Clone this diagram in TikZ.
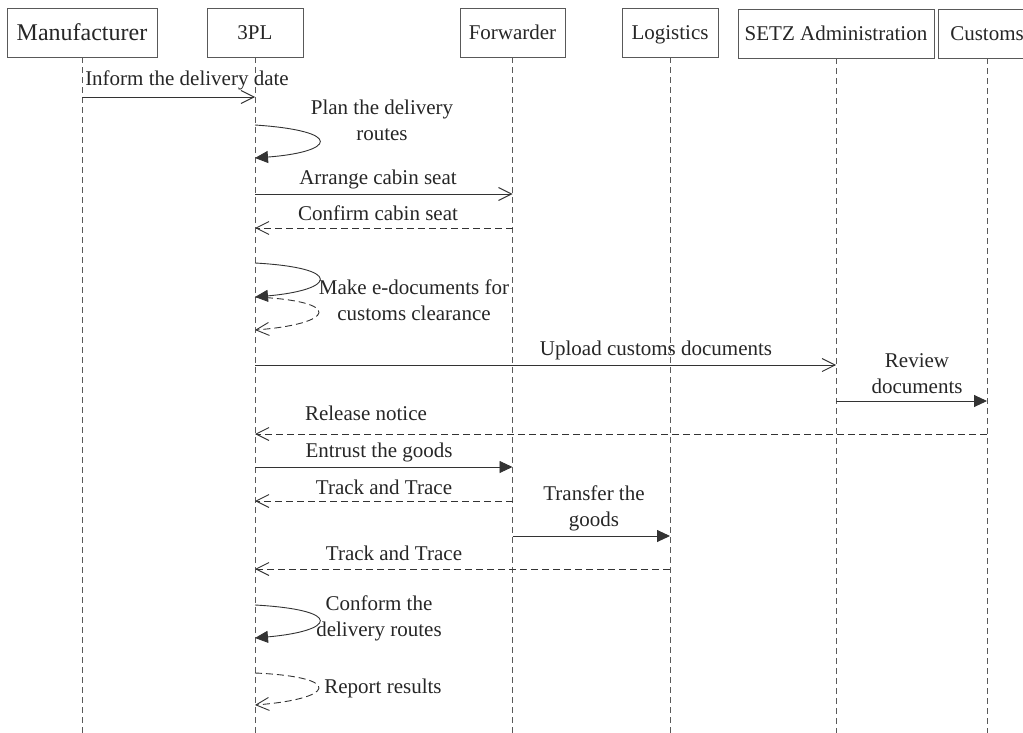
\documentclass[tikz,border=0pt]{standalone}
\usepackage{fontspec}
\setmainfont{Liberation Serif}
\usetikzlibrary{arrows.meta}
\begin{document}
\begin{tikzpicture}[x=1pt,y=-1pt,
  every node/.style={font=\fontsize{21}{26}\selectfont, text=black!85, inner sep=0pt},
  actor/.style={draw=black!65, line width=0.9pt, minimum height=49pt, text height=19pt, text depth=5pt},
  life/.style={draw=black!65, line width=0.8pt, dash pattern=on 6pt off 4pt},
  msg/.style={draw=black!80, line width=0.9pt},
  ret/.style={draw=black!80, line width=0.9pt, dash pattern=on 7pt off 4pt},
  open/.style={-{Straight Barb[length=13pt,width=13pt]}},
  full/.style={-{Triangle[length=13pt,width=12pt]}},
  lbl/.style={align=center}]
\useasboundingbox (0,0) rectangle (1023,733);
\begin{scope}
\clip (0,0) rectangle (1023,733);
% actors
\node[actor, minimum width=150pt, font=\fontsize{24}{28}\selectfont, text height=22pt, text depth=5pt] (m) at (82,32.5) {Manufacturer};
\node[actor, minimum width=96pt] (p) at (255,32.5) {3PL};
\node[actor, minimum width=105pt] (f) at (512.5,32.5) {Forwarder};
\node[actor, minimum width=96pt] (l) at (670,32.5) {Logistics};
\node[actor, minimum width=196pt] (s) at (836,33.5) {SETZ Administration};
\node[actor, minimum width=98pt] (c) at (987,33.5) {Customs};
% lifelines
\foreach \n in {m,p,f,l,s,c}{\draw[life] (\n.south) -- (\n |- 0,733);}
% messages
\draw[msg, open] (m |- 0,97) -- (p |- 0,97);
\node[lbl] (t1) at (187,80) {Inform the delivery date};

\draw[msg, full] (p |- 0,125) .. controls (345,131) and (335,152) .. (p |- 0,158);
\node[lbl] (t2) at (382,120) {Plan the delivery\\routes};

\draw[msg, open] (p |- 0,194) -- (f |- 0,194);
\node[lbl] (t3) at (378,179) {Arrange cabin seat};

\draw[ret, open] (f |- 0,228) -- (p |- 0,228);
\node[lbl] (t4) at (378,213) {Confirm cabin seat};

\draw[msg, full] (p |- 0,263) .. controls (345,268) and (335,290) .. (p |- 0,297);
\draw[ret, open] (p |- 0,297) .. controls (345,301) and (335,324) .. (p |- 0,330);
\node[lbl] (t5) at (414,300.5) {Make e-documents for\\customs clearance};

\draw[msg, open] (p |- 0,365) -- (s |- 0,365);
\node[lbl] (t6) at (656,350) {Upload customs documents};

\draw[msg, full] (s |- 0,401) -- (c |- 0,401);
\node[lbl] (t7) at (917,374) {Review\\documents};

\draw[ret, open] (c |- 0,434) -- (p |- 0,434);
\node[lbl] (t8) at (366,413) {Release notice};

\draw[msg, full] (p |- 0,467) -- (f |- 0,467);
\node[lbl] (t9) at (379,452) {Entrust the goods};

\draw[ret, open] (f |- 0,501) -- (p |- 0,501);
\node[lbl] (t10) at (384,487) {Track and Trace};

\draw[msg, full] (f |- 0,536) -- (l |- 0,536);
\node[lbl] (t11) at (594,508) {Transfer the\\goods};

\draw[ret, open] (l |- 0,569) -- (p |- 0,569);
\node[lbl] (t12) at (394,553) {Track and Trace};

\draw[msg, full] (p |- 0,605) .. controls (345,610) and (335,631) .. (p |- 0,638);
\node[lbl] (t13) at (379,618) {Conform the\\delivery routes};

\draw[ret, open] (p |- 0,673) .. controls (345,677) and (335,699) .. (p |- 0,705);
\node[lbl] (t14) at (383,688) {Report results};
\end{scope}
\end{tikzpicture}
\end{document}
